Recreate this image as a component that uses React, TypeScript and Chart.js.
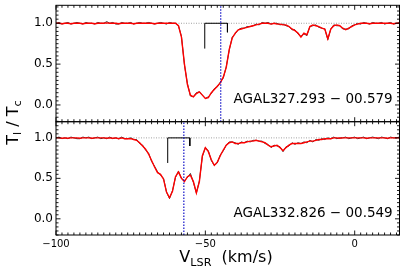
import React, { useEffect, useRef } from "react";
import { Chart, registerables } from "chart.js";

Chart.register(...registerables);

// ---------- data ----------
const VELOCITY = [
  -100, -99, -98, -97, -96, -95, -94, -93, -92, -91,
  -90, -89, -88, -87, -86, -85, -84, -83, -82, -81,
  -80, -79, -78, -77, -76, -75, -74, -73, -72, -71,
  -70, -69, -68, -67, -66, -65, -64, -63, -62, -61,
  -60, -59, -58, -57, -56, -55, -54, -53, -52, -51,
  -50, -49, -48, -47, -46, -45, -44, -43, -42, -41,
  -40, -39, -38, -37, -36, -35, -34, -33, -32, -31,
  -30, -29, -28, -27, -26, -25, -24, -23, -22, -21,
  -20, -19, -18, -17, -16, -15, -14, -13, -12, -11,
  -10, -9, -8, -7, -6, -5, -4, -3, -2, -1,
  0, 1, 2, 3, 4, 5, 6, 7, 8, 9,
  10, 11, 12, 13, 14, 15,
];

// AGAL327.293-00.579 : observed (black) and smoothed fit (red)
const TOP_OBS = [
  1.0, 1.01, 0.99, 1.0, 1.01, 0.99, 1.0, 1.01, 1.0, 0.99,
  1.01, 1.0, 1.0, 0.99, 1.01, 1.0, 1.0, 1.02, 1.0, 1.01,
  0.99, 0.99, 1.01, 1.0, 1.0, 1.01, 0.99, 1.0, 1.01, 1.0,
  1.0, 1.01, 1.0, 0.99, 1.0, 1.01, 1.0, 0.99, 1.01, 1.0,
  1.0, 0.97, 0.84, 0.49, 0.26, 0.11, 0.1, 0.15, 0.16, 0.12,
  0.08, 0.1, 0.14, 0.2, 0.22, 0.28, 0.33, 0.47, 0.67, 0.83,
  0.87, 0.92, 0.94, 0.94, 0.96, 0.96, 0.97, 0.99, 0.98, 1.01,
  1.0, 1.01, 0.99, 1.0, 1.0, 0.98, 0.99, 0.97, 0.96, 0.92,
  0.92, 0.87, 0.84, 0.87, 0.85, 0.96, 0.97, 0.98, 0.95, 0.94,
  0.93, 0.8, 0.93, 0.98, 0.97, 0.97, 0.93, 0.93, 0.93, 0.97,
  0.98, 1.0, 0.99, 1.01, 1.0, 0.99, 1.01, 1.0, 1.0, 1.01,
  0.99, 1.0, 1.01, 0.99, 1.0, 1.01,
];
const TOP_FIT = [
  1.0, 1.0, 0.995, 1.0, 1.0, 0.995, 1.0, 1.0, 1.0, 0.995,
  1.0, 1.0, 1.0, 0.995, 1.0, 1.0, 1.0, 1.005, 1.0, 1.0,
  1.0, 0.995, 1.0, 1.0, 1.0, 1.0, 0.995, 1.0, 1.0, 1.0,
  1.0, 1.0, 1.0, 0.995, 1.0, 1.0, 1.0, 1.0, 1.0, 1.0,
  1.0, 0.97, 0.83, 0.5, 0.25, 0.12, 0.1, 0.14, 0.16, 0.12,
  0.08, 0.09, 0.15, 0.19, 0.23, 0.27, 0.34, 0.46, 0.68, 0.82,
  0.88, 0.92, 0.93, 0.94, 0.95, 0.96, 0.97, 0.98, 0.99, 1.0,
  1.0, 1.0, 0.99, 1.0, 0.99, 0.99, 0.98, 0.98, 0.96, 0.93,
  0.91, 0.88, 0.83, 0.88, 0.86, 0.96, 0.98, 0.97, 0.96, 0.94,
  0.93, 0.81, 0.93, 0.97, 0.98, 0.97, 0.94, 0.92, 0.94, 0.96,
  0.98, 0.99, 1.0, 1.0, 1.0, 0.995, 1.0, 1.0, 1.0, 1.0,
  1.0, 1.0, 1.0, 0.995, 1.0, 1.0,
];

// AGAL332.826-00.549 : observed (black) and smoothed fit (red)
const BOT_OBS = [
  1.0, 1.01, 0.99, 1.0, 0.99, 1.01, 1.0, 0.99, 0.99, 1.01,
  1.0, 1.01, 0.99, 1.0, 1.01, 0.99, 1.0, 0.99, 1.01, 0.99,
  1.0, 0.99, 1.01, 0.99, 0.99, 1.0, 0.98, 0.98, 0.93, 0.91,
  0.85, 0.81, 0.71, 0.65, 0.58, 0.54, 0.5, 0.33, 0.25, 0.35,
  0.51, 0.59, 0.5, 0.47, 0.51, 0.56, 0.45, 0.32, 0.47, 0.77,
  0.88, 0.84, 0.72, 0.66, 0.69, 0.79, 0.84, 0.91, 0.95, 0.95,
  0.94, 0.92, 0.95, 0.94, 0.96, 0.95, 0.97, 0.97, 0.96, 0.96,
  0.93, 0.92, 0.88, 0.91, 0.9, 0.89, 0.83, 0.89, 0.9, 0.94,
  0.92, 0.94, 0.93, 0.95, 0.94, 0.97, 0.95, 0.98, 0.97, 0.99,
  0.98, 1.0, 0.99, 1.01, 0.99, 1.0, 1.0, 1.01, 0.99, 1.0,
  1.01, 0.99, 1.0, 1.01, 0.99, 1.0, 1.01, 1.0, 0.99, 1.01,
  1.0, 0.99, 1.01, 1.0, 1.0, 1.01,
];
const BOT_FIT = [
  1.0, 1.0, 0.995, 1.0, 0.995, 1.0, 1.0, 1.0, 0.995, 1.0,
  1.0, 1.0, 0.995, 1.0, 1.0, 1.0, 1.0, 0.995, 1.0, 0.995,
  1.0, 0.99, 1.0, 0.99, 0.99, 0.99, 0.98, 0.97, 0.94, 0.9,
  0.86, 0.8, 0.72, 0.64, 0.57, 0.55, 0.49, 0.33, 0.26, 0.34,
  0.52, 0.58, 0.5, 0.46, 0.52, 0.54, 0.46, 0.32, 0.46, 0.78,
  0.88, 0.83, 0.73, 0.66, 0.7, 0.78, 0.85, 0.91, 0.94, 0.95,
  0.93, 0.93, 0.94, 0.94, 0.95, 0.96, 0.96, 0.97, 0.96, 0.95,
  0.94, 0.91, 0.89, 0.9, 0.91, 0.88, 0.84, 0.88, 0.91, 0.93,
  0.93, 0.93, 0.93, 0.94, 0.95, 0.96, 0.96, 0.97, 0.98, 0.98,
  0.99, 0.99, 0.99, 1.0, 1.0, 0.995, 1.0, 1.0, 1.0, 1.0,
  1.0, 1.0, 1.0, 1.0, 0.995, 1.0, 1.0, 1.0, 1.0, 1.0,
  1.0, 0.995, 1.0, 1.0, 1.0, 1.0,
];

const SOURCE_NAMES = ["AGAL327.293 \u2212 00.579", "AGAL332.826 \u2212 00.549"];
const SYSTEMIC_V = [-44.85, -57.2];
const MARK_V = [[-50.2, -42.6], [-62.6, -55.2]];
const MARK_Y = [[0.69, 0.89], [0.69, 0.9]];
const CONTINUUM_LEVEL = 1.0;
const X_RANGE = [-100, 15];
const Y_RANGES = [[-0.205, 1.22], [-0.2, 1.2]];
const X_TICKS = [-100, -50, 0];
const Y_TICKS = [0, 0.5, 1.0];

// ---------- styling ----------
const FONT = "'DejaVu Sans', 'Liberation Sans', sans-serif";
const W = 407;
const H = 276;
const PANEL_EDGES = [
  [5.3, 121.7],
  [121.7, 235],
];

function fmtMinus(v: number, digits: number) {
  const s = Math.abs(v).toFixed(digits);
  return (v < 0 ? "\u2212" : "") + s;
}

type Part = { t: string; sub?: boolean };

function partsWidth(ctx: CanvasRenderingContext2D, parts: Part[], size: number) {
  let w = 0;
  for (const p of parts) {
    ctx.font = `${p.sub ? size * 0.7 : size}px ${FONT}`;
    w += ctx.measureText(p.t).width;
  }
  return w;
}

function drawParts(ctx: CanvasRenderingContext2D, parts: Part[], x: number, y: number, size: number) {
  let cx = x;
  for (const p of parts) {
    ctx.font = `${p.sub ? size * 0.7 : size}px ${FONT}`;
    ctx.fillText(p.t, cx, p.sub ? y + size * 0.22 : y);
    cx += ctx.measureText(p.t).width;
  }
}

function framePlugin(panel: number) {
  return {
    id: "frame" + panel,
    afterDatasetsDraw(chart: any) {
      const { ctx, chartArea: a, scales } = chart;
      const xs = scales.x;
      const ys = scales.y;
      ctx.save();
      ctx.strokeStyle = "#000";
      ctx.lineWidth = 0.9;
      ctx.beginPath();
      for (let k = 0; k < 200; k++) {
        const v = X_RANGE[0] + 2 * k;
        if (v > X_RANGE[1]) break;
        const px = xs.getPixelForValue(v);
        const len = X_TICKS.includes(v) ? 4.5 : 2.5;
        ctx.moveTo(px, a.bottom);
        ctx.lineTo(px, a.bottom - len);
        ctx.moveTo(px, a.top);
        ctx.lineTo(px, a.top + len);
      }
      for (let k = -4; k <= 24; k++) {
        const v = k * 0.05;
        if (v < ys.min - 1e-9 || v > ys.max + 1e-9) continue;
        const py = ys.getPixelForValue(v);
        const len = k % 10 === 0 ? 4.5 : 2.5;
        ctx.moveTo(a.left, py);
        ctx.lineTo(a.left + len, py);
        ctx.moveTo(a.right, py);
        ctx.lineTo(a.right - len, py);
      }
      ctx.stroke();
      ctx.lineWidth = 1;
      ctx.strokeRect(a.left, a.top, a.right - a.left, a.bottom - a.top);

      ctx.fillStyle = "#000";
      ctx.font = `13.5px ${FONT}`;
      ctx.textAlign = "right";
      ctx.textBaseline = "alphabetic";
      ctx.fillText(SOURCE_NAMES[panel], a.right - 6.8, a.bottom - 18.5);

      if (panel === 1) {
        ctx.textAlign = "left";
        const size = 16;
        const xParts: Part[] = [{ t: "V" }, { t: "LSR", sub: true }, { t: "  (km/s)" }];
        const xw = partsWidth(ctx, xParts, size);
        drawParts(ctx, xParts, 226 - xw / 2, 262, size);

        const yParts: Part[] = [{ t: "T" }, { t: "l", sub: true }, { t: " / T" }, { t: "c", sub: true }];
        const yw = partsWidth(ctx, yParts, size);
        ctx.save();
        ctx.translate(17.5, 122.5 + yw / 2);
        ctx.rotate(-Math.PI / 2);
        drawParts(ctx, yParts, 0, 0, size);
        ctx.restore();
      }
      ctx.restore();
    },
  };
}

function buildDatasets(panel: number) {
  const obs = panel === 0 ? TOP_OBS : BOT_OBS;
  const fit = panel === 0 ? TOP_FIT : BOT_FIT;
  const yr = Y_RANGES[panel];
  const mv = MARK_V[panel];
  const my = MARK_Y[panel];
  const vs = SYSTEMIC_V[panel];
  const sets: any[] = [
    {
      data: [
        { x: X_RANGE[0], y: CONTINUUM_LEVEL },
        { x: X_RANGE[1], y: CONTINUUM_LEVEL },
      ],
      borderColor: "#8a8a8a",
      borderWidth: 0.8,
      borderDash: [1, 1.5],
      order: 5,
    },
    {
      data: VELOCITY.map((v, i) => ({ x: v, y: obs[i] })),
      borderColor: "#000",
      borderWidth: 0.8,
      order: 4,
    },
    {
      data: VELOCITY.map((v, i) => ({ x: v, y: fit[i] })),
      borderColor: "#ff0000",
      borderWidth: 1.4,
      order: 3,
    },
    {
      data: [
        { x: mv[0], y: my[0] },
        { x: mv[0], y: CONTINUUM_LEVEL },
        { x: mv[1], y: CONTINUUM_LEVEL },
        { x: mv[1], y: my[1] },
      ],
      borderColor: "#000",
      borderWidth: 1,
      order: 2,
    },
    {
      data: [
        { x: vs, y: yr[0] },
        { x: vs, y: yr[1] },
      ],
      borderColor: "#1010c8",
      borderWidth: 1.2,
      borderDash: [1.5, 1.5],
      order: 1,
    },
  ];
  return sets.map((d) => ({ pointRadius: 0, fill: false, tension: 0, ...d }));
}

function buildConfig(panel: number): any {
  const [top, bottom] = PANEL_EDGES[panel];
  const isBottom = panel === 1;
  const yr = Y_RANGES[panel];
  return {
    type: "line",
    data: { datasets: buildDatasets(panel) },
    options: {
      responsive: false,
      animation: false,
      devicePixelRatio: 1,
      events: [],
      layout: {
        padding: { left: 0, right: W - 399.5, top: top, bottom: isBottom ? 0 : H - bottom },
      },
      plugins: { legend: { display: false }, tooltip: { enabled: false } },
      scales: {
        x: {
          type: "linear",
          min: X_RANGE[0],
          max: X_RANGE[1],
          display: isBottom,
          grid: { display: false, drawTicks: false },
          border: { display: false },
          afterBuildTicks: (s: any) => {
            s.ticks = X_TICKS.map((v) => ({ value: v }));
          },
          afterFit: (s: any) => {
            s.height = isBottom ? H - bottom : 0;
            s.paddingLeft = 0;
            s.paddingRight = 0;
          },
          ticks: {
            autoSkip: false,
            maxRotation: 0,
            padding: 3,
            color: "#000",
            font: { family: FONT, size: 10 },
            callback: (v: number) => fmtMinus(v, 0),
          },
        },
        y: {
          type: "linear",
          min: yr[0],
          max: yr[1],
          grid: { display: false, drawTicks: false },
          border: { display: false },
          afterBuildTicks: (s: any) => {
            s.ticks = Y_TICKS.map((v) => ({ value: v }));
          },
          afterFit: (s: any) => {
            s.width = 56;
            s.paddingTop = 0;
            s.paddingBottom = 0;
          },
          ticks: {
            autoSkip: false,
            padding: 3,
            color: "#000",
            font: { family: FONT, size: 12 },
            callback: (v: number) => fmtMinus(v, 1),
          },
        },
      },
    },
    plugins: [framePlugin(panel)],
  };
}

export default function App() {
  const topRef = useRef<HTMLCanvasElement | null>(null);
  const botRef = useRef<HTMLCanvasElement | null>(null);

  useEffect(() => {
    const charts: Chart[] = [];
    if (topRef.current) charts.push(new Chart(topRef.current, buildConfig(0)));
    if (botRef.current) charts.push(new Chart(botRef.current, buildConfig(1)));
    return () => {
      charts.forEach((c) => c.destroy());
    };
  }, []);

  const canvasStyle: React.CSSProperties = {
    position: "absolute",
    left: 0,
    top: 0,
    width: W,
    height: H,
  };

  return (
    <div style={{ position: "absolute", left: 0, top: 0, width: W, height: H, background: "#fff" }}>
      <canvas ref={topRef} width={W} height={H} style={canvasStyle} />
      <canvas ref={botRef} width={W} height={H} style={canvasStyle} />
    </div>
  );
}
